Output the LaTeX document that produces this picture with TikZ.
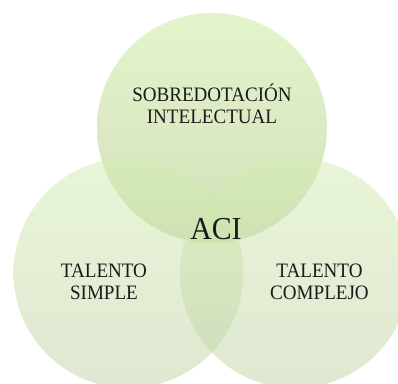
\documentclass[tikz,border=0pt]{standalone}
\usepackage{fontspec}
\setmainfont{Liberation Serif}[FakeStretch=0.93]
\definecolor{topTop}{RGB}{201,235,155}
\definecolor{topBot}{RGB}{170,195,120}
\definecolor{sideTop}{RGB}{212,237,178}
\definecolor{sideBot}{RGB}{192,210,165}
\definecolor{txt}{RGB}{26,26,26}
\tikzset{
  venntop/.style={top color=topTop, bottom color=topBot, fill opacity=0.5, draw=none},
  vennside/.style={top color=sideTop, bottom color=sideBot, fill opacity=0.5, draw=none},
  lbl/.style={text=txt, align=center, inner sep=0pt, font=\fontsize{20.5}{22.3}\selectfont},
  biglbl/.style={text=txt, inner sep=0pt, font=\fontsize{32}{36}\selectfont}
}
\begin{document}
\begin{tikzpicture}[x=1pt,y=1pt]
\useasboundingbox (0,0) rectangle (398,383);
\fill[white] (0,0) rectangle (398,383);
\shade[venntop] (212,255) circle (115);
\shade[vennside] (128.5,110) circle (115);
\shade[vennside] (295,110) circle (115);
\node[lbl] (sob) at (212,279) {SOBREDOTACIÓN\\INTELECTUAL};
\node[lbl] (ts) at (104,101.5) {TALENTO\\SIMPLE};
\node[lbl] (tc) at (319.5,101.5) {TALENTO\\COMPLEJO};
\node[biglbl, anchor=base] (aci) at (216,144) {ACI};
\end{tikzpicture}
\end{document}
